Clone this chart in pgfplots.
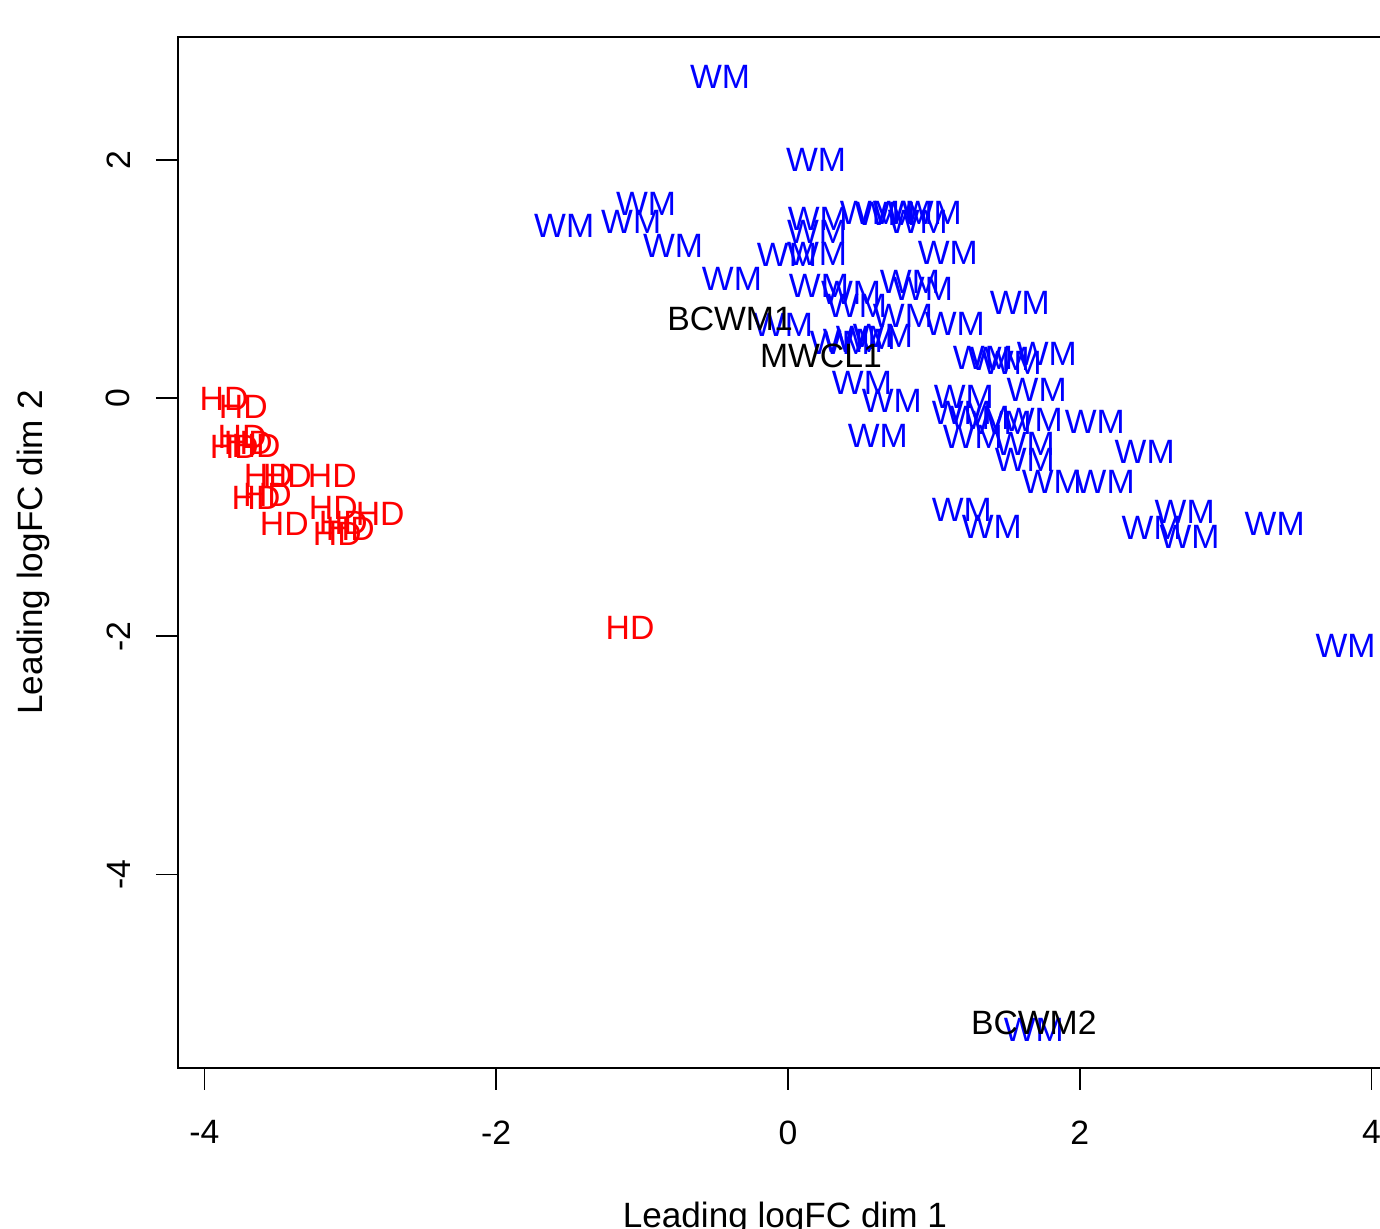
\documentclass[border=0pt]{standalone}
\usepackage{fontspec}
\setmainfont{Liberation Sans}
\usepackage{pgfplots}
\pgfplotsset{compat=1.18}
\newcommand\lab{\fontsize{9.6}{11.5}\selectfont}
\newcommand\axlab{\fontsize{10}{12}\selectfont}
\begin{document}
\begin{tikzpicture}
\begin{axis}[
 x=14.59mm, y=11.917mm,
 xmin=-4.181, xmax=4.140, ymin=-5.622, ymax=3.029,
 clip=false,
 axis line style={line width=0.5pt},
 tick pos=left, tick align=outside,
 major tick length=2.2mm,
 every tick/.style={black, line width=0.5pt},
 xtick={-4,-2,0,2,4}, xticklabels={-4,-2,0,2,4},
 ytick={-4,-2,0,2}, yticklabels={-4,-2,0,2},
 xticklabel style={font=\lab, anchor=north, inner sep=0pt},
 yticklabel style={font=\lab, rotate=90, anchor=south, inner sep=0pt},
 xticklabel shift=3.0mm, yticklabel shift=2.5mm,
 xlabel={Leading logFC dim 1}, ylabel={Leading logFC dim 2},
 every axis x label/.style={at={(axis description cs:0.5,-0.1552)}, anchor=base, font=\axlab},
 every axis y label/.style={at={(axis description cs:-0.1112,0.5)}, anchor=base, rotate=90, font=\axlab},
 every node near coord/.append style={anchor=center, font=\lab, inner sep=0pt},
]
% HD group
\addplot[draw=none, mark=none, nodes near coords={HD}, every node near coord/.append style={text=red}] table {
x y
-3.865 -0.008
-3.733 -0.076
-3.742 -0.325
-3.795 -0.409
-3.699 -0.378
-3.646 -0.401
-3.562 -0.655
-3.432 -0.655
-3.123 -0.655
-3.646 -0.840
-3.568 -0.815
-3.452 -1.059
-3.116 -0.924
-2.795 -0.975
-3.089 -1.143
-3.000 -1.101
-3.048 -1.050
-1.082 -1.933
};
% WM group
\addplot[draw=none, mark=none, nodes near coords={WM}, every node near coord/.append style={text=blue}] table {
x y
-0.466 2.697
0.192 2.000
-1.534 1.445
-1.075 1.479
-0.973 1.630
-0.788 1.277
-0.384 1.000
0.205 1.504
0.199 1.395
0.562 1.555
0.671 1.546
0.788 1.555
0.890 1.479
0.986 1.555
-0.007 1.202
0.199 1.210
1.096 1.218
0.212 0.941
0.432 0.882
0.836 0.975
0.925 0.916
0.473 0.773
0.788 0.689
1.144 0.622
-0.034 0.613
1.589 0.798
0.356 0.462
0.445 0.479
0.534 0.504
0.651 0.521
1.336 0.336
1.452 0.328
1.534 0.294
1.774 0.370
0.507 0.126
0.712 -0.025
1.205 0.008
1.705 0.067
0.616 -0.319
1.192 -0.126
1.315 -0.168
1.466 -0.210
1.678 -0.185
2.103 -0.202
1.267 -0.328
1.623 -0.387
1.623 -0.521
2.445 -0.454
1.808 -0.706
2.171 -0.706
1.192 -0.941
1.397 -1.084
2.493 -1.092
2.719 -0.958
2.753 -1.168
3.336 -1.059
3.822 -2.084
1.685 -5.303
};
% named samples
\addplot[draw=none, mark=none, nodes near coords={\pgfplotspointmeta}, point meta=explicit symbolic, every node near coord/.append style={text=black}] table[meta=label] {
x y label
-0.397 0.664 BCWM1
0.226 0.353 MWCL1
1.685 -5.244 BCWM2
};
\coordinate (bbll) at (axis cs:-5.401,-6.973);
\coordinate (bbur) at (axis cs:4.058,3.340);
\end{axis}
\pgfresetboundingbox
\useasboundingbox (bbll) rectangle (bbur);
\end{tikzpicture}
\end{document}
